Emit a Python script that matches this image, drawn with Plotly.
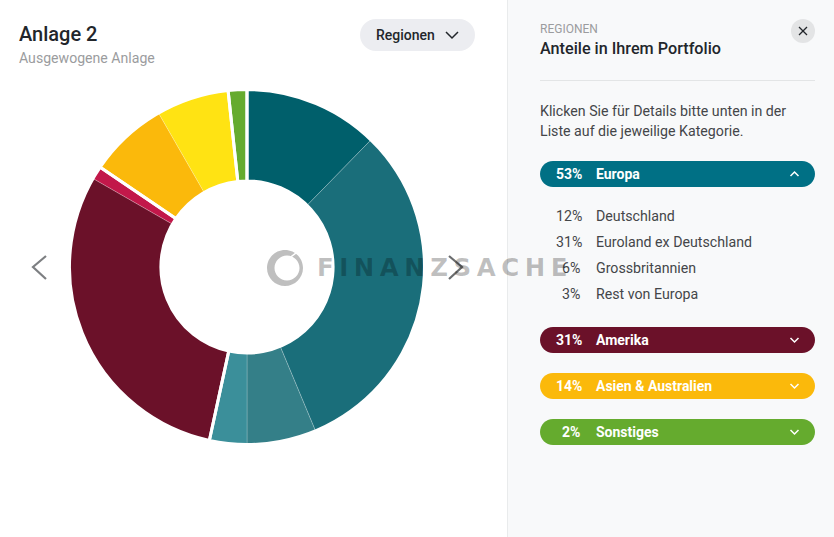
import plotly.graph_objects as go

W, H = 834, 537

# ---- data ----
slice_names = ["Deutschland", "Euroland ex Deutschland", "Grossbritannien", "Rest von Europa",
               "Nordamerika", "Lateinamerika", "Asien", "Australien", "Sonstiges"]
slice_values = [12.3, 31.4, 6.3, 3.4, 29.9, 1.2, 7.2, 6.6, 1.7]
slice_colors = ["#005f6b", "#1a6e7a", "#347f88", "#3b8f9a", "#6b1129",
                "#c2184a", "#fbb90b", "#ffe313", "#65ab2e"]
group_names = ["Europa", "Amerika", "Asien & Australien", "Sonstiges"]
group_labels = ["53%", "31%", "14%", "2%"]
group_colors = ["#007085", "#6b1129", "#fbb90b", "#65ab2e"]
group_slices = [4, 2, 2, 1]
detail_names = ["Deutschland", "Euroland ex Deutschland", "Grossbritannien", "Rest von Europa"]
detail_labels = ["12%", "31%", "6%", "3%"]

# group totals for the white separators
group_values, i = [], 0
for n in group_slices:
    group_values.append(sum(slice_values[i:i + n]))
    i += n


def px(x):
    return x / W


def py(y):
    return 1 - y / H


def pill_path(x0, y0, x1, y1, r):
    k = 0.5523 * r
    pts = [
        f"M{px(x0 + r)},{py(y0)}", f"L{px(x1 - r)},{py(y0)}",
        f"C{px(x1 - r + k)},{py(y0)} {px(x1)},{py(y0 + r - k)} {px(x1)},{py(y0 + r)}",
        f"L{px(x1)},{py(y1 - r)}",
        f"C{px(x1)},{py(y1 - r + k)} {px(x1 - r + k)},{py(y1)} {px(x1 - r)},{py(y1)}",
        f"L{px(x0 + r)},{py(y1)}",
        f"C{px(x0 + r - k)},{py(y1)} {px(x0)},{py(y1 - r + k)} {px(x0)},{py(y1 - r)}",
        f"L{px(x0)},{py(y0 + r)}",
        f"C{px(x0)},{py(y0 + r - k)} {px(x0 + r - k)},{py(y0)} {px(x0 + r)},{py(y0)}", "Z",
    ]
    return " ".join(pts)


def circle_path(cx, cy, r, reverse=False):
    k = 0.5523 * r
    if not reverse:
        return (f"M{px(cx)},{py(cy - r)} "
                f"C{px(cx + k)},{py(cy - r)} {px(cx + r)},{py(cy - k)} {px(cx + r)},{py(cy)} "
                f"C{px(cx + r)},{py(cy + k)} {px(cx + k)},{py(cy + r)} {px(cx)},{py(cy + r)} "
                f"C{px(cx - k)},{py(cy + r)} {px(cx - r)},{py(cy + k)} {px(cx - r)},{py(cy)} "
                f"C{px(cx - r)},{py(cy - k)} {px(cx - k)},{py(cy - r)} {px(cx)},{py(cy - r)} Z")
    return (f"M{px(cx)},{py(cy - r)} "
            f"C{px(cx - k)},{py(cy - r)} {px(cx - r)},{py(cy - k)} {px(cx - r)},{py(cy)} "
            f"C{px(cx - r)},{py(cy + k)} {px(cx - k)},{py(cy + r)} {px(cx)},{py(cy + r)} "
            f"C{px(cx + k)},{py(cy + r)} {px(cx + r)},{py(cy + k)} {px(cx + r)},{py(cy)} "
            f"C{px(cx + r)},{py(cy - k)} {px(cx + k)},{py(cy - r)} {px(cx)},{py(cy - r)} Z")


def poly(points):
    return "M" + " L".join(f"{px(a)},{py(b)}" for a, b in points)


shapes, annos = [], []


def add_pill(x0, y0, x1, y1, color):
    shapes.append(dict(type="path", xref="paper", yref="paper", path=pill_path(x0, y0, x1, y1, (y1 - y0) / 2),
                       fillcolor=color, line_width=0, layer="below"))


def add_line(points, color, width, layer="above"):
    shapes.append(dict(type="path", xref="paper", yref="paper", path=poly(points), line=dict(color=color, width=width),
                       fillcolor="rgba(0,0,0,0)", layer=layer))


def add_text(x, y, text, size, color, weight=400, anchor="left"):
    annos.append(dict(xref="paper", yref="paper", x=px(x), y=py(y), text=text, showarrow=False, xanchor=anchor,
                      yanchor="middle", borderpad=0, borderwidth=0, align=anchor,
                      font=dict(family="Roboto", size=size, color=color, weight=weight)))


# right panel
shapes.append(dict(type="rect", xref="paper", yref="paper", x0=px(507), x1=1, y0=0, y1=1,
                   fillcolor="#f8f9fa", line_width=0, layer="below"))
shapes.append(dict(type="rect", xref="paper", yref="paper", x0=px(507), x1=px(508), y0=0, y1=1,
                   fillcolor="#e9ebec", line_width=0, layer="below"))
shapes.append(dict(type="rect", xref="paper", yref="paper", x0=px(540), x1=px(815), y0=py(81), y1=py(80),
                   fillcolor="#e3e5e6", line_width=0, layer="below"))

# header
add_text(19, 34, "Anlage 2", 20, "#22262b", 500)
add_text(19, 58, "Ausgewogene Anlage", 14.1, "#9b9c9e")
add_pill(360, 19, 475, 51, "#ecedf1")
add_text(376, 35, "Regionen", 14, "#22262b", 500)
add_line([(446, 32), (452, 38), (458, 32)], "#22262b", 1.5)

add_text(540, 29, "REGIONEN", 12, "#9b9c9e")
add_text(540, 48, "Anteile in Ihrem Portfolio", 16.2, "#22262b", 500)
shapes.append(dict(type="circle", xref="paper", yref="paper", x0=px(791), x1=px(815), y0=py(43), y1=py(19),
                   fillcolor="#e3e4e5", line_width=0, layer="below"))
add_line([(799, 27), (807, 35)], "#22262b", 1.3)
add_line([(807, 27), (799, 35)], "#22262b", 1.3)
add_text(540, 111, "Klicken Sie für Details bitte unten in der", 14.2, "#444649")
add_text(540, 131, "Liste auf die jeweilige Kategorie.", 14.2, "#444649")

# group pills
pill_tops = [161, 327, 373, 419]
for top, name, lab, col in zip(pill_tops, group_names, group_labels, group_colors):
    add_pill(540, top, 815, top + 26, col)
    add_text(582 if len(lab) == 3 else 580, top + 13, lab, 14, "#ffffff", 700, "right")
    add_text(596, top + 13, name, 14, "#ffffff", 700)
    if name == group_names[0]:
        add_line([(790.5, top + 15), (794.5, top + 11), (798.5, top + 15)], "#ffffff", 1.5)
    else:
        add_line([(790.5, top + 11), (794.5, top + 15), (798.5, top + 11)], "#ffffff", 1.5)

# expanded rows
row_y = [216, 242, 268, 294]
for y, name, lab in zip(row_y, detail_names, detail_labels):
    add_text(582 if len(lab) == 3 else 580, y, lab, 14.2, "#444649", 400, "right")
    add_text(596, y, name, 14.2, "#444649")

# navigation arrows
add_line([(46, 256), (33, 267), (46, 279)], "#7d7f82", 2.2)
add_line([(449, 256), (462, 267), (449, 279)], "#6a6c6e", 2.2)

# watermark
wm = "rgba(0,0,0,0.25)"
shapes.append(dict(type="path", xref="paper", yref="paper",
                   path=circle_path(285, 268, 18) + " " + circle_path(287, 268, 12.5, reverse=True),
                   fillcolor=wm, line_width=0, layer="above"))
add_line([(288, 259), (298, 251.5)], "#ffffff", 1.5)
annos.append(dict(xref="paper", yref="paper", x=px(316), y=py(268), xanchor="left", yanchor="middle", showarrow=False,
                  borderpad=0, text='<span style="letter-spacing:5.5px">FINANZSACHE</span>',
                  font=dict(family="DejaVu Sans", size=24.5, color=wm, weight=700)))

fig = go.Figure()
pie_domain = dict(x=[px(69.5), px(424.5)], y=[py(444.5), py(89.5)])
fig.add_trace(go.Pie(values=slice_values, labels=slice_names, sort=False, direction="clockwise", rotation=0, hole=0.485,
                     domain=pie_domain, textinfo="none", hoverinfo="label+percent",
                     marker=dict(colors=slice_colors, line=dict(color="rgba(255,255,255,0.35)", width=0.6))))
fig.add_trace(go.Pie(values=group_values, labels=group_names, sort=False, direction="clockwise", rotation=0, hole=0.485,
                     domain=pie_domain, textinfo="none", hoverinfo="skip",
                     marker=dict(colors=["rgba(0,0,0,0)"] * 4, line=dict(color="#ffffff", width=3))))
fig.update_layout(width=W, height=H, margin=dict(l=0, r=0, t=0, b=0), showlegend=False,
                  paper_bgcolor="#ffffff", plot_bgcolor="#ffffff", shapes=shapes, annotations=annos,
                  font=dict(family="Roboto"))
fig.write_html("out.html", config=dict(displayModeBar=False),
               post_script="document.body.style.margin='0';document.body.style.overflow='hidden';")
